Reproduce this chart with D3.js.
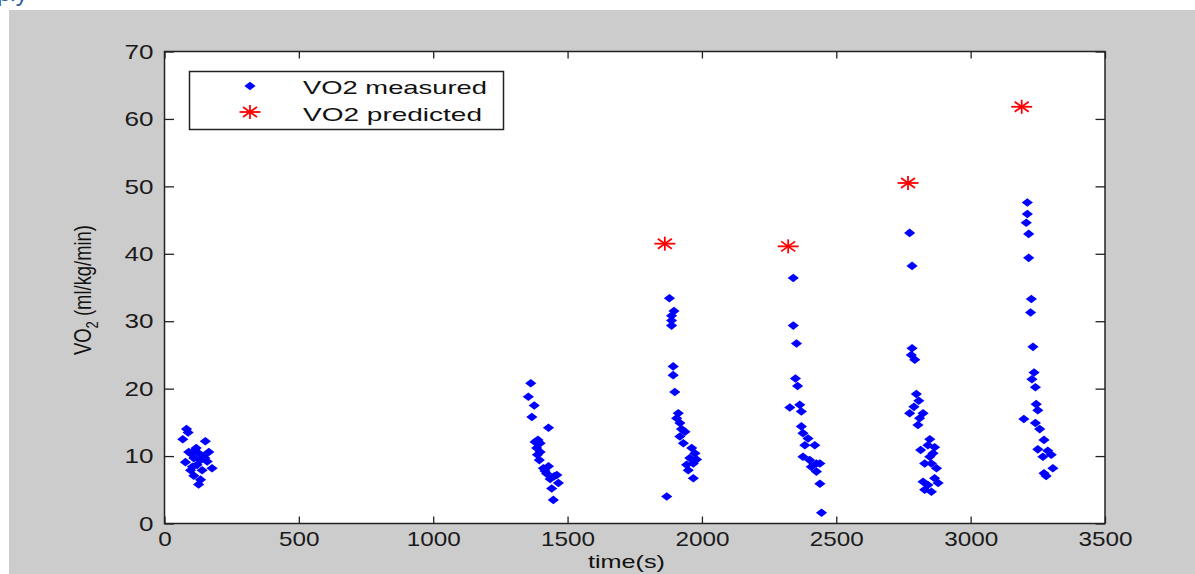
<!DOCTYPE html>
<meta charset="utf-8">
<style>
body { margin: 0; background: #fff; }
text { font-family: "Liberation Sans", Arial, sans-serif; fill: #111; }
</style>
<body>
<svg width="1195" height="574"></svg>
</body>
<script src="https://d3js.org/d3.v7.min.js"></script>
<script>

// time (s) and VO2 (ml/kg/min) of each measured sample, block by block
var measuredTime = [
  82, 88, 68, 152, 113, 90, 127, 165, 78, 109, 134, 159, 121, 177, 97, 140, 109, 134, 127, 100, 145, 118, 104, 150,
  1363, 1354, 1376, 1367, 1429, 1379, 1398, 1385, 1398, 1390, 1395, 1429, 1416, 1460, 1435, 1466, 1441, 1447, 1410, 1450, 1388, 1422,
  1879, 1896, 1887, 1887, 1887, 1893, 1893, 1899, 1912, 1906, 1918, 1924, 1937, 1918, 1931, 1962, 1974, 1955, 1980, 1943, 1968, 1949, 1968, 1869,
  2340, 2340, 2352, 2348, 2356, 2327, 2364, 2370, 2370, 2376, 2395, 2383, 2420, 2376, 2401, 2426, 2407, 2439, 2426, 2439, 2445,
  2773, 2782, 2782, 2779, 2792, 2798, 2807, 2789, 2773, 2823, 2810, 2804, 2848, 2841, 2866, 2814, 2860, 2848, 2829, 2854, 2873, 2866, 2823, 2841, 2879, 2829, 2854,
  3211, 3211, 3207, 3216, 3216, 3226, 3223, 3232, 3236, 3228, 3241, 3244, 3250, 3198, 3241, 3257, 3273, 3250, 3287, 3300, 3269, 3306, 3281, 3273
];
var measuredVO2 = [
  14.0, 13.5, 12.5, 12.2, 10.9, 10.6, 10.4, 10.6, 9.1, 9.7, 9.4, 9.2, 8.7, 8.2, 7.9, 7.9, 7.1, 6.5, 5.8, 10.3, 10.0, 11.2, 8.4, 9.7,
  20.8, 18.8, 17.5, 15.8, 14.2, 12.1, 11.9, 11.2, 10.6, 12.4, 9.4, 8.5, 7.8, 7.2, 6.6, 6.0, 5.2, 3.5, 8.2, 7.0, 10.2, 7.4,
  33.4, 31.5, 30.8, 30.1, 29.35, 23.3, 22.0, 19.5, 16.35, 15.6, 14.9, 14.0, 13.6, 12.9, 11.9, 11.2, 10.4, 9.7, 9.5, 8.7, 8.9, 7.9, 6.7, 4.0,
  36.4, 29.35, 26.7, 21.5, 20.4, 17.2, 17.6, 16.6, 14.4, 13.4, 12.6, 11.6, 11.6, 9.9, 9.4, 8.9, 8.4, 8.9, 7.7, 5.9, 1.6,
  43.1, 38.2, 26.0, 25.0, 24.3, 19.2, 18.2, 17.3, 16.35, 16.35, 15.6, 14.6, 12.5, 11.6, 11.3, 10.9, 10.4, 9.9, 8.9, 8.9, 8.2, 6.7, 6.2, 5.7, 6.0, 5.0, 4.7,
  47.6, 45.9, 44.6, 42.95, 39.4, 33.3, 31.3, 26.2, 22.4, 21.4, 20.2, 17.7, 16.8, 15.5, 14.9, 14.0, 12.4, 11.0, 10.8, 10.2, 9.9, 8.2, 7.05, 7.45
];
var predictedTime = [1862, 2321, 2767, 3190];
var predictedVO2 = [41.5, 41.1, 50.5, 61.8];

var xTicks = [0, 500, 1000, 1500, 2000, 2500, 3000, 3500];
var yTicks = [0, 10, 20, 30, 40, 50, 60, 70];
var legendLabels = ["VO2 measured", "VO2 predicted"];

var svg = d3.select("svg");

// figure background
svg.append("rect").attr("x", 9).attr("y", 10).attr("width", 1186).attr("height", 564).attr("fill", "#cccccc");
svg.append("text").attr("x", -3).attr("y", 1).style("font-size", "24px").style("fill", "#2f5e9e").text("ply");

var pLeft = 164.5, pRight = 1105, pTop = 51.5, pBottom = 523.5;
var x = d3.scaleLinear().domain([0, 3500]).range([pLeft, pRight]);
var y = d3.scaleLinear().domain([0, 70]).range([pBottom, pTop]);
var fmt = d3.format("d");

svg.append("rect")
    .attr("x", pLeft).attr("y", pTop)
    .attr("width", pRight - pLeft).attr("height", pBottom - pTop)
    .attr("fill", "#fff");

var xAxis = svg.append("g")
    .attr("transform", "translate(0," + pBottom + ")")
    .call(d3.axisBottom(x).tickValues(xTicks).tickFormat(fmt).tickSizeInner(-7).tickSizeOuter(0));
xAxis.selectAll("text")
    .attr("y", 8).style("font-size", "21px").style("fill", "#1a1a1a")
    .attr("textLength", function(d) { return String(d).length * 13.5; })
    .attr("lengthAdjust", "spacingAndGlyphs");

svg.append("g")
    .attr("transform", "translate(0," + pTop + ")")
    .call(d3.axisTop(x).tickValues(xTicks).tickSizeInner(-7).tickSizeOuter(0).tickFormat(""));

var yAxis = svg.append("g")
    .attr("transform", "translate(" + pLeft + ",0)")
    .call(d3.axisLeft(y).tickValues(yTicks).tickFormat(fmt).tickSizeInner(-9.5).tickSizeOuter(0));
yAxis.selectAll("text")
    .attr("x", -11).style("font-size", "21px").style("fill", "#1a1a1a")
    .attr("textLength", function(d) { return String(d).length * 14.5; })
    .attr("lengthAdjust", "spacingAndGlyphs");

svg.append("g")
    .attr("transform", "translate(" + pRight + ",0)")
    .call(d3.axisRight(y).tickValues(yTicks).tickSizeInner(-9.5).tickSizeOuter(0).tickFormat(""));

svg.selectAll(".domain").remove();
svg.selectAll(".tick line").attr("stroke", "#222").attr("stroke-width", 1.3);

svg.append("rect")
    .attr("x", pLeft).attr("y", pTop)
    .attr("width", pRight - pLeft).attr("height", pBottom - pTop)
    .attr("fill", "none").attr("stroke", "#222").attr("stroke-width", 1.5);

var diamond = "M0,-4.3L5.6,0L0,4.3L-5.6,0Z";
function star(g) {
  g.append("line").attr("x1", -10.5).attr("x2", 10.5).attr("y1", 0).attr("y2", 0);
  g.append("line").attr("x1", 0).attr("x2", 0).attr("y1", -7).attr("y2", 7);
  g.append("line").attr("x1", -7).attr("x2", 7).attr("y1", -5).attr("y2", 5);
  g.append("line").attr("x1", -7).attr("x2", 7).attr("y1", 5).attr("y2", -5);
  g.attr("stroke", "#ff0000").attr("stroke-width", 1.8);
}

svg.append("g").selectAll("path")
    .data(measuredTime)
    .enter().append("path")
    .attr("d", diamond)
    .attr("fill", "#0000ff")
    .attr("transform", function(d, i) { return "translate(" + x(d) + "," + y(measuredVO2[i]) + ")"; });

svg.append("g").selectAll("g")
    .data(predictedTime)
    .enter().append("g")
    .attr("transform", function(d, i) { return "translate(" + x(d) + "," + y(predictedVO2[i]) + ")"; })
    .each(function() { star(d3.select(this)); });

// legend
var legend = svg.append("g");
legend.append("rect")
    .attr("x", 189.5).attr("y", 71.5).attr("width", 314).attr("height", 58)
    .attr("fill", "#fff").attr("stroke", "#222").attr("stroke-width", 1.5);
legend.append("path").attr("d", diamond).attr("fill", "#0000ff").attr("transform", "translate(250,86)");
legend.append("g").attr("transform", "translate(250,112)").call(star);
legend.selectAll("text.lbl")
    .data(legendLabels)
    .enter().append("text")
    .attr("class", "lbl")
    .attr("x", 303)
    .attr("y", function(d, i) { return 94 + i * 27; })
    .style("font-size", "19px")
    .attr("textLength", function(d, i) { return i === 0 ? 184 : 179; })
    .attr("lengthAdjust", "spacingAndGlyphs")
    .text(function(d) { return d; });

// axis titles
svg.append("text")
    .attr("x", 588).attr("y", 568)
    .style("font-size", "19px")
    .attr("textLength", 77).attr("lengthAdjust", "spacingAndGlyphs")
    .text("time(s)");

var yt = svg.append("text")
    .attr("transform", "translate(91,355) rotate(-90)")
    .style("font-size", "24px")
    .attr("textLength", 130).attr("lengthAdjust", "spacingAndGlyphs");
yt.append("tspan").text("VO");
yt.append("tspan").attr("dy", 7).style("font-size", "17px").text("2");
yt.append("tspan").attr("dy", -7).text(" (ml/kg/min)");

</script>
</html>
